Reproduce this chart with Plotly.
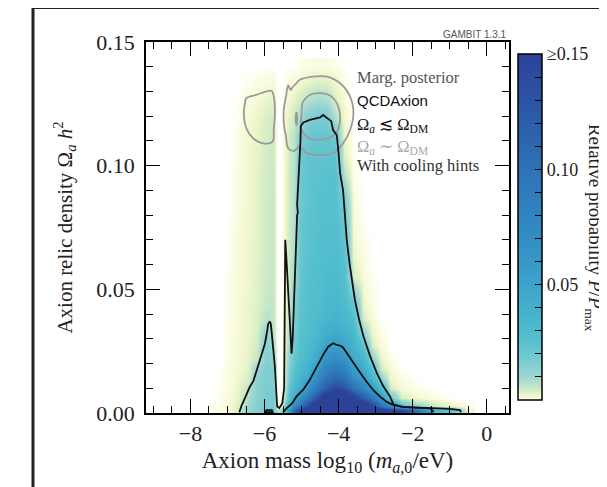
import plotly.graph_objects as go

# -------------------------------
# Data
# -------------------------------

# bin centres of the density map
mass_centers = [-7.45, -7.2, -6.95, -6.7, -6.45, -6.2, -5.95, -5.76, -5.66, -5.54, -5.46, -5.33, -5.2, -5.05,
                -4.85, -4.6, -4.35, -4.1, -3.85, -3.6, -3.35, -3.1, -2.85, -2.6, -2.3, -1.9, -1.4, -0.9, -0.5]
relic_centers = [0.001, 0.003, 0.006, 0.010, 0.014, 0.018, 0.022, 0.027, 0.032, 0.038, 0.045,
                 0.055, 0.065, 0.075, 0.085, 0.095, 0.104, 0.112, 0.119, 0.126, 0.133, 0.140]

# relative probability, one list per mass column (bottom -> top)
density_by_mass = [
    [0.0003, 0.0002, 0, 0, 0, 0, 0, 0, 0, 0, 0, 0, 0, 0, 0, 0, 0, 0, 0, 0, 0, 0],
    [0.0006, 0.0005, 0.0003, 0.0002, 0.0001, 0, 0, 0, 0, 0, 0, 0, 0, 0, 0, 0, 0, 0, 0, 0, 0, 0],
    [0.0011, 0.001, 0.0009, 0.0008, 0.0007, 0.0006, 0.0006, 0.0005, 0.0005, 0.0004, 0.0004, 0.0003, 0.0002, 0.0001, 0, 0, 0, 0, 0, 0, 0, 0],
    [0.004, 0.0035, 0.003, 0.0025, 0.002, 0.0017, 0.0015, 0.0014, 0.0013, 0.0013, 0.0013, 0.0012, 0.0011, 0.001, 0.0009, 0.0008, 0.0006, 0.0005, 0.0003, 0.0001, 0, 0],
    [0.012, 0.01, 0.008, 0.006, 0.004, 0.003, 0.0028, 0.0025, 0.0024, 0.0023, 0.0022, 0.002, 0.002, 0.0019, 0.0018, 0.0018, 0.0017, 0.0016, 0.0014, 0.0008, 0.0003, 0],
    [0.015, 0.015, 0.014, 0.014, 0.013, 0.011, 0.006, 0.0045, 0.004, 0.0037, 0.0035, 0.0033, 0.0032, 0.003, 0.003, 0.003, 0.0028, 0.0027, 0.0025, 0.0015, 0.0006, 0],
    [0.02, 0.018, 0.017, 0.017, 0.016, 0.016, 0.015, 0.014, 0.012, 0.007, 0.0055, 0.005, 0.0048, 0.0047, 0.0046, 0.0045, 0.0044, 0.0042, 0.004, 0.0025, 0.001, 0],
    [0.02, 0.018, 0.017, 0.017, 0.016, 0.015, 0.013, 0.01, 0.007, 0.006, 0.006, 0.0058, 0.0056, 0.0055, 0.0055, 0.0054, 0.0052, 0.005, 0.0045, 0.0028, 0.0012, 0],
    [0.008, 0.001, 0, 0, 0, 0, 0, 0, 0, 0, 0, 0, 0, 0, 0, 0, 0, 0, 0, 0, 0, 0],
    [0.01, 0.001, 0, 0, 0, 0, 0, 0, 0, 0, 0, 0, 0, 0, 0, 0, 0, 0, 0, 0, 0, 0],
    [0.03, 0.014, 0.006, 0.003, 0.002, 0.0018, 0.0016, 0.0015, 0.0015, 0.0015, 0.0015, 0.0015, 0.0014, 0.0014, 0.0014, 0.0014, 0.0014, 0.0013, 0.0012, 0.0008, 0.0003, 0],
    [0.06, 0.04, 0.028, 0.022, 0.018, 0.016, 0.013, 0.01, 0.008, 0.006, 0.0055, 0.005, 0.005, 0.005, 0.005, 0.005, 0.0048, 0.0045, 0.0035, 0.002, 0.0008, 0],
    [0.11, 0.07, 0.045, 0.032, 0.027, 0.024, 0.022, 0.02, 0.018, 0.016, 0.014, 0.01, 0.008, 0.0075, 0.0072, 0.007, 0.0068, 0.0065, 0.005, 0.003, 0.0012, 0],
    [0.15, 0.1, 0.065, 0.045, 0.036, 0.031, 0.028, 0.026, 0.025, 0.024, 0.023, 0.022, 0.021, 0.021, 0.02, 0.02, 0.019, 0.016, 0.009, 0.005, 0.002, 0.0003],
    [0.2, 0.14, 0.09, 0.06, 0.046, 0.038, 0.033, 0.03, 0.028, 0.027, 0.026, 0.025, 0.024, 0.024, 0.023, 0.023, 0.022, 0.02, 0.015, 0.007, 0.003, 0.0006],
    [0.25, 0.19, 0.13, 0.09, 0.068, 0.055, 0.044, 0.037, 0.033, 0.03, 0.028, 0.027, 0.026, 0.025, 0.025, 0.024, 0.023, 0.022, 0.018, 0.009, 0.004, 0.0008],
    [0.35, 0.26, 0.18, 0.12, 0.095, 0.078, 0.064, 0.05, 0.041, 0.035, 0.032, 0.03, 0.028, 0.027, 0.026, 0.025, 0.024, 0.022, 0.018, 0.009, 0.004, 0.0008],
    [0.5, 0.35, 0.22, 0.14, 0.11, 0.09, 0.072, 0.055, 0.045, 0.038, 0.034, 0.031, 0.029, 0.027, 0.026, 0.025, 0.023, 0.019, 0.008, 0.004, 0.002, 0.0004],
    [0.45, 0.32, 0.2, 0.13, 0.1, 0.08, 0.062, 0.048, 0.04, 0.034, 0.03, 0.027, 0.024, 0.021, 0.017, 0.008, 0.003, 0.002, 0.0015, 0.001, 0.0004, 0],
    [0.35, 0.25, 0.16, 0.1, 0.07, 0.055, 0.045, 0.037, 0.032, 0.027, 0.02, 0.004, 0.002, 0.0012, 0.0008, 0.0004, 0.0002, 0, 0, 0, 0, 0],
    [0.28, 0.2, 0.12, 0.075, 0.055, 0.042, 0.034, 0.024, 0.012, 0.004, 0.002, 0.001, 0.0005, 0.0002, 0, 0, 0, 0, 0, 0, 0, 0],
    [0.22, 0.15, 0.09, 0.055, 0.035, 0.024, 0.012, 0.004, 0.002, 0.001, 0.0005, 0.0002, 0, 0, 0, 0, 0, 0, 0, 0, 0, 0],
    [0.17, 0.1, 0.06, 0.03, 0.012, 0.004, 0.002, 0.001, 0.0005, 0, 0, 0, 0, 0, 0, 0, 0, 0, 0, 0, 0, 0],
    [0.15, 0.07, 0.02, 0.004, 0.002, 0.001, 0.0004, 0, 0, 0, 0, 0, 0, 0, 0, 0, 0, 0, 0, 0, 0, 0],
    [0.15, 0.025, 0.004, 0.0012, 0.0005, 0, 0, 0, 0, 0, 0, 0, 0, 0, 0, 0, 0, 0, 0, 0, 0, 0],
    [0.1, 0.012, 0.0015, 0.0004, 0, 0, 0, 0, 0, 0, 0, 0, 0, 0, 0, 0, 0, 0, 0, 0, 0, 0],
    [0.03, 0.005, 0.0005, 0, 0, 0, 0, 0, 0, 0, 0, 0, 0, 0, 0, 0, 0, 0, 0, 0, 0, 0],
    [0.02, 0.002, 0, 0, 0, 0, 0, 0, 0, 0, 0, 0, 0, 0, 0, 0, 0, 0, 0, 0, 0, 0],
    [0.0015, 0.0003, 0, 0, 0, 0, 0, 0, 0, 0, 0, 0, 0, 0, 0, 0, 0, 0, 0, 0, 0, 0],
]

# 95% contour of the QCDAxion scan with cooling hints (black, outer)
outer_x = [-6.68, -6.62, -6.5, -6.4, -6.3, -6.18, -6.1, -5.99, -5.93, -5.9, -5.86, -5.83, -5.81, -5.76, -5.72,
           -5.68, -5.66, -5.6, -5.52, -5.47, -5.46, -5.45, -5.44, -5.4, -5.33, -5.29, -5.27, -5.24, -5.2, -5.17,
           -5.14, -5.12, -5.1, -5.12, -5.1, -5.06, -5.03, -5.02, -4.95, -4.78, -4.6, -4.5, -4.42, -4.3, -4.2,
           -4.15, -4.05, -4.0, -3.96, -3.88, -3.83, -3.78, -3.7, -3.61, -3.56, -3.45, -3.33, -3.15, -2.97, -2.8,
           -2.61, -2.52, -2.3, -1.98, -1.5, -1.0, -0.72, -0.7]
outer_y = [0.0003, 0.003, 0.007, 0.0105, 0.013, 0.0187, 0.022, 0.028, 0.033, 0.036, 0.037, 0.036, 0.033, 0.025, 0.0187,
           0.008, 0.0026, 0.002, 0.004, 0.01, 0.04, 0.062, 0.07, 0.06, 0.04, 0.028, 0.024, 0.03, 0.05, 0.065,
           0.075, 0.08, 0.081, 0.084, 0.09, 0.1, 0.11, 0.116, 0.1175, 0.1185, 0.119, 0.1195, 0.1205, 0.119, 0.118,
           0.1144, 0.1124, 0.105, 0.097, 0.09, 0.08, 0.07, 0.06, 0.05, 0.0457, 0.038, 0.031, 0.023, 0.0162, 0.011,
           0.0066, 0.0035, 0.0025, 0.0023, 0.002, 0.0017, 0.0012, 0.0003]

# 68% contour (black, inner hump)
inner_x = [-5.5, -5.4, -5.25, -5.14, -4.95, -4.78, -4.65, -4.5, -4.4, -4.28, -4.2, -4.15, -4.05, -3.95, -3.88,
           -3.75, -3.6, -3.45, -3.24, -3.05, -2.88, -2.7, -2.52, -2.2, -1.8, -1.53, -1.45, -1.5]
inner_y = [0.0003, 0.002, 0.004, 0.0066, 0.0095, 0.0133, 0.017, 0.0214, 0.024, 0.0268, 0.0278, 0.0282, 0.0275,
           0.0272, 0.0265, 0.0235, 0.0205, 0.017, 0.0125, 0.009, 0.0066, 0.0045, 0.0032, 0.0024, 0.0021, 0.0019,
           0.0008, 0.0003]
island_x = [-6.0, -5.95, -5.8, -5.78, -6.0]
island_y = [0.0003, 0.0012, 0.0012, 0.0003, 0.0003]

# Omega_a ~ Omega_DM contours (grey)
grey_left_x = [-6.49, -6.22, -5.95, -5.81, -5.75, -5.72, -5.75, -5.78, -6.04, -6.31, -6.49, -6.56, -6.53, -6.49]
grey_left_y = [0.1273, 0.1286, 0.13, 0.1303, 0.128, 0.1212, 0.1144, 0.1097, 0.109, 0.1111, 0.1151, 0.1212, 0.1252, 0.1273]
grey_outer_x = [-5.36, -5.42, -5.48, -5.48, -5.42, -5.36, -5.3, -5.23, -5.14, -5.05, -4.69, -4.32, -3.96, -3.69,
                -3.6, -3.69, -3.88, -4.15, -4.5, -4.86, -5.05, -5.2, -5.36]
grey_outer_y = [0.107, 0.1117, 0.1171, 0.1225, 0.1279, 0.1326, 0.1306, 0.132, 0.1333, 0.1347, 0.136, 0.136, 0.1333,
                0.1279, 0.1212, 0.1144, 0.109, 0.105, 0.1043, 0.105, 0.1077, 0.106, 0.107]
grey_inner_x = [-4.96, -4.78, -4.46, -4.19, -4.01, -3.96, -4.04, -4.19, -4.5, -4.86, -5.0, -5.0, -4.96]
grey_inner_y = [0.1259, 0.1286, 0.1293, 0.1279, 0.1239, 0.1185, 0.1138, 0.1117, 0.1104, 0.1117, 0.1144, 0.1212, 0.1259]
grey_dot_x = [-5.16, -5.14, -5.12, -5.14, -5.16]
grey_dot_y = [0.119, 0.1215, 0.119, 0.1165, 0.119]

# colour bar ticks
cbar_ticks = [0.01, 0.02, 0.03, 0.04, 0.05, 0.06, 0.07, 0.08, 0.09, 0.10, 0.11, 0.12, 0.13, 0.14, 0.15]
cbar_labels = ["", "", "", "", "0.05", "", "", "", "", "0.10", "", "", "", "", "≥0.15"]

# legend block inside the plot
legend_lines = ["Marg. posterior", "QCDAxion", "Ω<sub><i>a</i></sub> ≲ Ω<sub>DM</sub>",
                "Ω<sub><i>a</i></sub> ∼ Ω<sub>DM</sub>", "With cooling hints"]
legend_y = [0.1355, 0.1262, 0.1165, 0.1076, 0.0999]
legend_colors = ["#555555", "#111111", "#111111", "#aaaaaa", "#333333"]

SERIF = "Liberation Serif"

colorscale = [
    [0.0, "#ffffff"], [0.0033, "#fcfde4"], [0.0133, "#f0f7cc"], [0.0267, "#d8eec6"],
    [0.0467, "#b5e2cc"], [0.0667, "#9cd7d3"], [0.133, "#6dc8d0"], [0.173, "#55c0cd"],
    [0.233, "#48b6ce"], [0.333, "#3ca3cb"], [0.5, "#3188c2"], [0.667, "#2e72b6"],
    [0.833, "#2c59a7"], [1.0, "#2c4299"],
]

# transpose columns -> rows for the heatmap
z = [list(r) for r in zip(*density_by_mass)]

fig = go.Figure()

fig.add_trace(go.Heatmap(
    x=mass_centers, y=relic_centers, z=z,
    zmin=0, zmax=0.15, zsmooth="best", colorscale=colorscale, hoverinfo="skip",
    colorbar=dict(
        x=1.0248, xanchor="left", xpad=0, y=0.5013, yanchor="middle", ypad=0,
        len=346, lenmode="pixels", thickness=24, thicknessmode="pixels",
        outlinewidth=1.5, outlinecolor="black",
        tickmode="array", tickvals=cbar_ticks, ticktext=cbar_labels,
        ticks="inside", ticklen=7, tickwidth=1.2, tickcolor="black",
        tickfont=dict(family=SERIF, size=18, color="#222"),
    ),
))

grey_line = dict(color="#9a9a9a", width=1.8)
for gx, gy in [(grey_left_x, grey_left_y), (grey_outer_x, grey_outer_y),
               (grey_inner_x, grey_inner_y), (grey_dot_x, grey_dot_y)]:
    fig.add_trace(go.Scatter(x=gx, y=gy, mode="lines", line=grey_line, line_shape="spline",
                             hoverinfo="skip", showlegend=False))

black_line = dict(color="#111111", width=1.8)
for bx, by in [(outer_x, outer_y), (inner_x, inner_y), (island_x, island_y)]:
    fig.add_trace(go.Scatter(x=bx, y=by, mode="lines", line=black_line,
                             hoverinfo="skip", showlegend=False))

for text, yy, col in zip(legend_lines, legend_y, legend_colors):
    fam = "Liberation Sans" if text == "QCDAxion" else SERIF
    size = 15 if text == "QCDAxion" else 16.5
    fig.add_annotation(x=-3.56, y=yy, xref="x", yref="y", text=text, showarrow=False,
                       xanchor="left", yanchor="middle", font=dict(family=fam, size=size, color=col))

fig.add_annotation(x=1.0, y=1.019, xref="paper", yref="paper", text="GAMBIT 1.3.1", showarrow=False,
                   xanchor="right", yanchor="middle", font=dict(family="Liberation Sans", size=10, color="#555"))

fig.add_annotation(x=1.236, y=0.5, xref="paper", yref="paper", textangle=90,
                   text="Relative probability <i>P</i>/<i>P</i><sub>max</sub>", showarrow=False,
                   xanchor="center", yanchor="middle", font=dict(family=SERIF, size=19, color="#222"))

# outer frame of the figure
fig.add_shape(type="rect", xref="paper", yref="paper", x0=-0.3113, x1=2, y0=-1, y1=1.093,
              line=dict(color="#222", width=3))

axis_common = dict(
    showline=True, linecolor="black", linewidth=1.5, mirror="allticks",
    ticks="inside", ticklen=14, tickwidth=1.2, tickcolor="black",
    showgrid=False, zeroline=False,
    tickfont=dict(family=SERIF, size=22, color="#222"),
)

fig.update_layout(
    width=607, height=487,
    margin=dict(l=138, r=106, t=34, b=82),
    paper_bgcolor="white", plot_bgcolor="white",
    showlegend=False,
    xaxis=dict(
        range=[-9.2, 0.6], tickmode="linear", tick0=0, dtick=2,
        minor=dict(dtick=0.5, tick0=0, ticks="inside", ticklen=7, tickcolor="black", tickwidth=1),
        title=dict(text="Axion mass log<sub>10</sub> (<i>m</i><sub><i>a</i>,0</sub>/eV)",
                   font=dict(family=SERIF, size=23, color="#222"), standoff=7),
        **axis_common,
    ),
    yaxis=dict(
        range=[0, 0.15], tickmode="linear", tick0=0, dtick=0.05, tickformat=".2f",
        ticklabelstandoff=5,
        minor=dict(dtick=0.01, tick0=0, ticks="inside", ticklen=7, tickcolor="black", tickwidth=1),
        title=dict(text="Axion relic density Ω<sub><i>a</i></sub> <i>h</i><sup>2</sup>",
                   font=dict(family=SERIF, size=21, color="#222"), standoff=18),
        **axis_common,
    ),
)

fig.write_html("out.html")
